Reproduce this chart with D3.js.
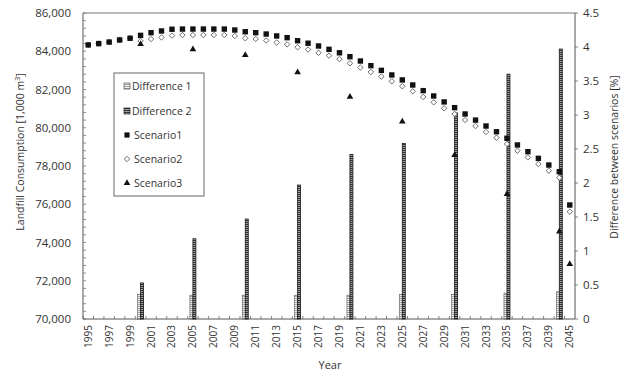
<!DOCTYPE html>
<html>
<head>
<meta charset="utf-8">
<script src="https://cdn.jsdelivr.net/npm/d3@7"></script>
<style>
  html, body { margin: 0; padding: 0; background: #fff; }
  svg text { font-family: "Open Sans", "Liberation Sans", sans-serif; fill: #333; }
</style>
</head>
<body>
<svg id="chart" width="626" height="374"></svg>
<script>
// Category axis: yearly 1995–2040, then 2045
const years = ["1995","1996","1997","1998","1999","2000","2001","2002","2003","2004",
  "2005","2006","2007","2008","2009","2010","2011","2012","2013","2014",
  "2015","2016","2017","2018","2019","2020","2021","2022","2023","2024",
  "2025","2026","2027","2028","2029","2030","2031","2032","2033","2034",
  "2035","2036","2037","2038","2039","2040","2045"];

// Landfill consumption [1,000 m3]
const scenario1 = [84330,84400,84480,84590,84680,84830,84970,85060,85150,85160,
  85160,85160,85160,85160,85110,85020,84970,84900,84800,84710,
  84550,84420,84275,84100,83920,83715,83490,83245,83000,82760,
  82500,82235,81940,81660,81350,81050,80720,80400,80090,79790,
  79450,79100,78750,78400,78050,77700,75960];
const scenario2 = [84330,84400,84480,84590,84680,84535,84640,84720,84820,84850,
  84850,84850,84850,84850,84800,84680,84640,84560,84460,84360,
  84210,84090,83920,83770,83590,83370,83150,82915,82680,82430,
  82170,81905,81610,81330,81015,80720,80405,80090,79780,79480,
  79150,78800,78455,78105,77755,77390,75610];
const scenario3Years = ["2000","2005","2010","2015","2020","2025","2030","2035","2040","2045"];
const scenario3 = [84380,84100,83800,82900,81620,80320,78575,76535,74565,72875];

// Difference between scenarios [%]
const diffYears = ["2000","2005","2010","2015","2020","2025","2030","2035","2040"];
const difference1 = [0.36,0.35,0.35,0.35,0.35,0.36,0.36,0.38,0.40];
const difference2 = [0.53,1.18,1.47,1.97,2.42,2.58,3.03,3.60,3.97];

const leftTicks = [70000,72000,74000,76000,78000,80000,82000,84000,86000];
const rightTicks = [0,0.5,1,1.5,2,2.5,3,3.5,4,4.5];

const svg = d3.select("#chart");
const L = 83, R = 575, T = 13, B = 319;

const x = d3.scaleBand().domain(years).range([L, R]).padding(0);
const yL = d3.scaleLinear().domain([70000, 86000]).range([B, T]);
const yR = d3.scaleLinear().domain([0, 4.5]).range([B, T]);
const xSub = d3.scaleBand().domain(["Difference 1","Difference 2"])
  .range([0, x.bandwidth()]).paddingInner(0).paddingOuter(0.745);
const cx = d => x(d) + x.bandwidth() / 2;

// Hatch fills for the difference bars
const defs = svg.append("defs");
const p1 = defs.append("pattern").attr("id","hatch1").attr("patternUnits","userSpaceOnUse")
  .attr("width",4).attr("height",2);
p1.append("rect").attr("width",4).attr("height",2).attr("fill","#f2f2f2");
p1.append("rect").attr("width",4).attr("height",0.9).attr("fill","#9a9a9a");
const p2 = defs.append("pattern").attr("id","hatch2").attr("patternUnits","userSpaceOnUse")
  .attr("width",4).attr("height",2);
p2.append("rect").attr("width",4).attr("height",2).attr("fill","#a0a0a0");
p2.append("rect").attr("width",4).attr("height",1).attr("fill","#333");

// Frame
svg.append("line").attr("x1",L).attr("x2",R).attr("y1",T).attr("y2",T)
  .attr("stroke","#777").attr("stroke-width",1);

// Left axis with inside minor ticks
const leftMinor = d3.range(70000, 86001, 400);
const gL = svg.append("g").attr("transform",`translate(${L},0)`);
gL.append("line").attr("y1",T).attr("y2",B).attr("stroke","#555");
gL.selectAll("line.minor").data(leftMinor).join("line").attr("class","minor")
  .attr("x1",0).attr("x2",3).attr("y1",d=>yL(d)).attr("y2",d=>yL(d))
  .attr("stroke","#777").attr("stroke-width",0.8);
gL.selectAll("text").data(leftTicks).join("text")
  .attr("x",-12).attr("y",d=>yL(d)).attr("dy","0.35em").attr("text-anchor","end")
  .attr("font-size","11.5px").text(d3.format(","));

// Right axis
const gR = svg.append("g").attr("transform",`translate(${R},0)`);
gR.append("line").attr("y1",T).attr("y2",B).attr("stroke","#555");
gR.selectAll("line.tk").data(rightTicks).join("line").attr("class","tk")
  .attr("x1",0).attr("x2",3).attr("y1",d=>yR(d)).attr("y2",d=>yR(d))
  .attr("stroke","#666").attr("stroke-width",0.8);
gR.selectAll("text").data(rightTicks).join("text")
  .attr("x",8).attr("y",d=>yR(d)).attr("dy","0.35em").attr("text-anchor","start")
  .attr("font-size","11.5px").text(d => d);

// Bottom axis
const gB = svg.append("g").attr("transform",`translate(0,${B})`);
gB.append("line").attr("x1",L).attr("x2",R).attr("stroke","#555");
gB.selectAll("line.tk").data(years).join("line").attr("class","tk")
  .attr("x1",d=>x(d)).attr("x2",d=>x(d)).attr("y1",0).attr("y2",-3)
  .attr("stroke","#666").attr("stroke-width",0.8);
gB.selectAll("text").data(years.filter((d,i)=>i%2===0)).join("text")
  .attr("transform",d=>`translate(${cx(d)},6) rotate(-90)`)
  .attr("dy","0.35em").attr("text-anchor","end").attr("font-size","10px").text(d=>d);

// Axis titles
svg.append("text").attr("transform",`translate(24,152) rotate(-90)`)
  .attr("text-anchor","middle").attr("font-size","10.5px")
  .html('Landfill Consumption [1,000 m<tspan dy="-4" font-size="7px">3</tspan><tspan dy="4">]</tspan>');
svg.append("text").attr("transform",`translate(614,157) rotate(-90)`)
  .attr("text-anchor","middle").attr("font-size","10.5px")
  .attr("dy","0.35em").text("Difference between scenarios [%]");
svg.append("text").attr("x",330).attr("y",369).attr("text-anchor","middle")
  .attr("font-size","11px").text("Year");

// Difference bars (right axis)
const bars = svg.append("g");
bars.selectAll("rect.d1").data(diffYears).join("rect").attr("class","d1")
  .attr("x",(d)=>x(d)+xSub("Difference 1")).attr("width",xSub.bandwidth())
  .attr("y",(d,i)=>yR(difference1[i])).attr("height",(d,i)=>B-yR(difference1[i]))
  .attr("fill","url(#hatch1)").attr("stroke","#555").attr("stroke-width",0.6);
bars.selectAll("rect.d2").data(diffYears).join("rect").attr("class","d2")
  .attr("x",(d)=>x(d)+xSub("Difference 2")).attr("width",xSub.bandwidth())
  .attr("y",(d,i)=>yR(difference2[i])).attr("height",(d,i)=>B-yR(difference2[i]))
  .attr("fill","url(#hatch2)").attr("stroke","#1a1a1a").attr("stroke-width",0.8);

// Scenario markers (left axis)
const diamond = d3.symbol().type(d3.symbolSquare).size(15);
const tri = d3.symbol().type(d3.symbolTriangle).size(19);
svg.append("g").selectAll("path").data(years).join("path")
  .attr("transform",(d,i)=>`translate(${cx(d)},${yL(scenario2[i])}) rotate(45)`)
  .attr("d",diamond).attr("fill","#fff").attr("stroke","#666").attr("stroke-width",0.9);
svg.append("g").selectAll("rect").data(years).join("rect")
  .attr("x",(d)=>cx(d)-2.7).attr("y",(d,i)=>yL(scenario1[i])-2.7)
  .attr("width",5.4).attr("height",5.4).attr("fill","#111");
svg.append("g").selectAll("path").data(scenario3Years).join("path")
  .attr("transform",(d,i)=>`translate(${cx(d)},${yL(scenario3[i])})`)
  .attr("d",tri).attr("fill","#111");

// Legend
const lg = svg.append("g");
lg.append("rect").attr("x",114).attr("y",73).attr("width",90).attr("height",123)
  .attr("fill","#fff").attr("stroke","#666").attr("stroke-width",1);
const items = ["Difference 1","Difference 2","Scenario1","Scenario2","Scenario3"];
const ly = [86,111,135,159,183];
items.forEach((name,i)=>{
  const sx = 127, sy = ly[i];
  if (i===0) lg.append("rect").attr("x",sx-3).attr("y",sy-3).attr("width",6).attr("height",6)
    .attr("fill","url(#hatch1)").attr("stroke","#555").attr("stroke-width",0.7);
  if (i===1) lg.append("rect").attr("x",sx-3).attr("y",sy-3).attr("width",6).attr("height",6)
    .attr("fill","url(#hatch2)").attr("stroke","#222").attr("stroke-width",0.7);
  if (i===2) lg.append("rect").attr("x",sx-2.6).attr("y",sy-2.6).attr("width",5.2).attr("height",5.2).attr("fill","#111");
  if (i===3) lg.append("path").attr("transform",`translate(${sx},${sy}) rotate(45)`).attr("d",diamond)
    .attr("fill","#fff").attr("stroke","#666").attr("stroke-width",0.9);
  if (i===4) lg.append("path").attr("transform",`translate(${sx},${sy})`).attr("d",tri).attr("fill","#111");
  lg.append("text").attr("x", i<2 ? 132 : 134).attr("y",sy).attr("dy","0.35em")
    .attr("font-size","10.5px").text(name);
});
</script>
</body>
</html>
